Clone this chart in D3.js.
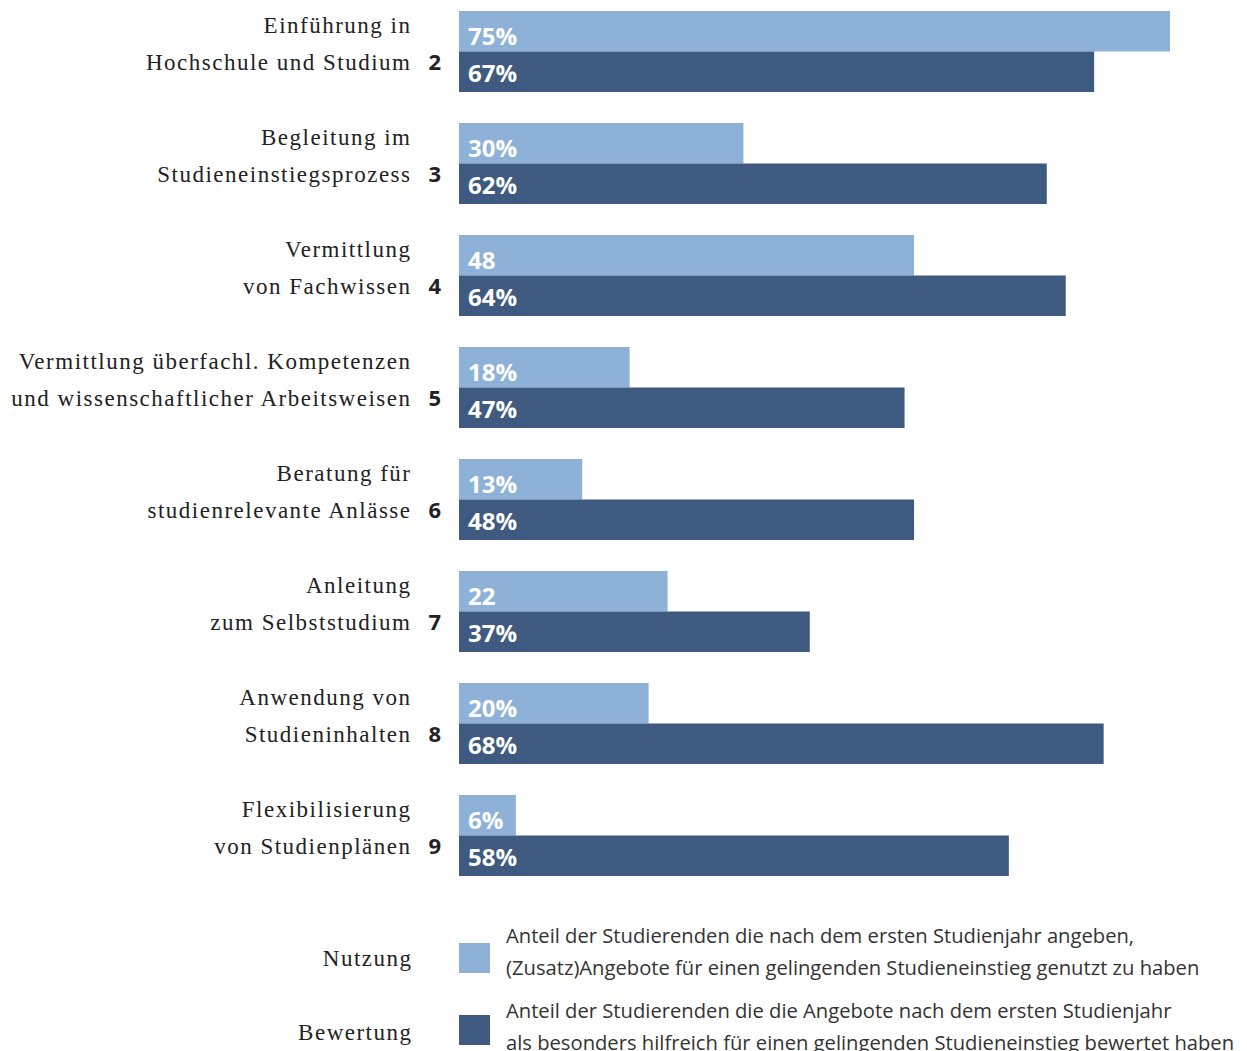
<!DOCTYPE html>
<html>
    <head>
        <script src="https://d3js.org/d3.v7.min.js"></script>
        <style>
            body { margin: 0; background: #fff; }
        </style>
    </head>

    <body>
        <div id = "target"></div>

        <script>
            var line1 = ['Einführung in', 'Begleitung im', 'Vermittlung', 'Vermittlung überfachl. Kompetenzen',
                         'Beratung für', 'Anleitung', 'Anwendung von', 'Flexibilisierung'];
            var line2 = ['Hochschule und Studium', 'Studieneinstiegsprozess', 'von Fachwissen',
                         'und wissenschaftlicher Arbeitsweisen', 'studienrelevante Anlässe', 'zum Selbststudium',
                         'Studieninhalten', 'von Studienplänen'];
            var numbers = ['2', '3', '4', '5', '6', '7', '8', '9'];
            var nutzung = [75, 30, 48, 18, 13, 22, 20, 6];
            var bewertung = [67, 62, 64, 47, 48, 37, 68, 58];
            var nutzungLabels = ['75%', '30%', '48', '18%', '13%', '22', '20%', '6%'];
            var bewertungLabels = ['67%', '62%', '64%', '47%', '48%', '37%', '68%', '58%'];
            var legendNames = ['Nutzung', 'Bewertung'];
            var legendText = [
                ['Anteil der Studierenden die nach dem ersten Studienjahr angeben,',
                 '(Zusatz)Angebote für einen gelingenden Studieneinstieg genutzt zu haben'],
                ['Anteil der Studierenden die die Angebote nach dem ersten Studienjahr',
                 'als besonders hilfreich für einen gelingenden Studieneinstieg bewertet haben']
            ];

            var light = '#8eb2d7', dark = '#3e5a80';
            var serif = '"Liberation Serif", "DejaVu Serif", serif';
            var sans = '"Open Sans", "Noto Sans", sans-serif';
            var spacing = 1.5;

            var graph = d3.select('#target')
                        .append('svg')
                        .attr('width', 1247)
                        .attr('height', 1051);

            var x = d3.scaleLinear()
                .domain([0, 100])
                .range([459, 459 + 948]);

            var y = d3.scaleBand()
                .domain(d3.range(numbers.length))
                .range([11, 11 + 112 * numbers.length])
                .paddingInner(0);

            var barH = 40.5;

            var group = graph.append('g')
                .selectAll('g')
                .data(numbers)
                .enter()
                .append('g')
                .attr('transform', function(d, i){
                    return 'translate(0,' + y(i) + ')';
                });

            group.append('rect')
                .attr('x', x(0))
                .attr('y', 0)
                .attr('width', function(d, i){ return x(nutzung[i]) - x(0); })
                .attr('height', barH)
                .attr('fill', light);

            group.append('rect')
                .attr('x', x(0))
                .attr('y', barH)
                .attr('width', function(d, i){ return x(bewertung[i]) - x(0); })
                .attr('height', barH)
                .attr('fill', dark);

            group.append('text')
                .text(function(d, i){ return nutzungLabels[i]; })
                .attr('x', 468)
                .attr('y', 34)
                .attr('fill', '#fff')
                .style('font-family', sans)
                .style('font-weight', 'bold')
                .style('font-size', '24px');

            group.append('text')
                .text(function(d, i){ return bewertungLabels[i]; })
                .attr('x', 468)
                .attr('y', 71)
                .attr('fill', '#fff')
                .style('font-family', sans)
                .style('font-weight', 'bold')
                .style('font-size', '24px');

            group.append('text')
                .text(function(d, i){ return line1[i]; })
                .attr('x', 410 + spacing)
                .attr('y', 22)
                .attr('text-anchor', 'end')
                .attr('fill', '#222')
                .style('font-family', serif)
                .style('letter-spacing', spacing + 'px')
                .style('font-size', '23px');

            group.append('text')
                .text(function(d, i){ return line2[i]; })
                .attr('x', 410 + spacing)
                .attr('y', 59)
                .attr('text-anchor', 'end')
                .attr('fill', '#222')
                .style('font-family', serif)
                .style('letter-spacing', spacing + 'px')
                .style('font-size', '23px');

            group.append('text')
                .text(function(d){ return d; })
                .attr('x', 441)
                .attr('y', 59)
                .attr('text-anchor', 'end')
                .attr('fill', '#222')
                .style('font-family', sans)
                .style('font-weight', 'bold')
                .style('font-size', '22px');

            // legend
            var legend = graph.append('g')
                .selectAll('g')
                .data(legendNames)
                .enter()
                .append('g')
                .attr('transform', function(d, i){
                    return 'translate(0,' + (943 + i * 72) + ')';
                });

            legend.append('rect')
                .attr('x', 459)
                .attr('y', 0)
                .attr('width', 31)
                .attr('height', 30)
                .attr('fill', function(d, i){ return i === 0 ? light : dark; });

            legend.append('text')
                .text(function(d){ return d; })
                .attr('x', 411 + spacing)
                .attr('y', function(d, i){ return i === 0 ? 23 : 25; })
                .attr('text-anchor', 'end')
                .attr('fill', '#222')
                .style('font-family', serif)
                .style('letter-spacing', spacing + 'px')
                .style('font-size', '23px');

            legend.each(function(d, i){
                var g = d3.select(this);
                legendText[i].forEach(function(t, j){
                    g.append('text')
                        .text(t)
                        .attr('x', 506)
                        .attr('y', (i === 0 ? 0 : 3) + j * 32)
                        .attr('fill', '#333')
                        .style('font-family', sans)
                        .style('font-size', '20.2px');
                });
            });
        </script>
    </body>
</html>
